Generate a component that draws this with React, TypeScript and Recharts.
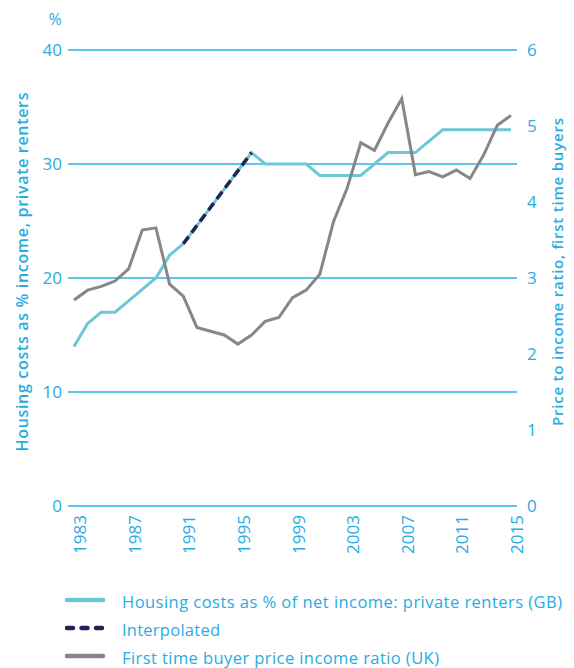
import React from 'react';
import { LineChart, Line, XAxis, YAxis, CartesianGrid } from 'recharts';

const years = [
  1983, 1984, 1985, 1986, 1987, 1988, 1989, 1990, 1991, 1992, 1993,
  1994, 1995, 1996, 1997, 1998, 1999, 2000, 2001, 2002, 2003, 2004,
  2005, 2006, 2007, 2008, 2009, 2010, 2011, 2012, 2013, 2014, 2015,
];

// Housing costs as % of net income: private renters (GB)
const rentersPct = [
  14, 16, 17, 17, 18, 19, 20, 22, 23, 24.6, 26.2,
  27.8, 29.4, 31, 30, 30, 30, 30, 29, 29, 29, 29,
  30, 31, 31, 31, 32, 33, 33, 33, 33, 33, 33,
];

// Interpolated segment
const interpolatedPct: (number | null)[] = [
  null, null, null, null, null, null, null, null, 23, 24.6, 26.2,
  27.8, 29.4, 31, null, null, null, null, null, null, null, null,
  null, null, null, null, null, null, null, null, null, null, null,
];

// First time buyer price income ratio (UK)
const ftbRatio = [
  2.71, 2.84, 2.89, 2.96, 3.12, 3.63, 3.66, 2.92, 2.76, 2.35, 2.30,
  2.25, 2.13, 2.25, 2.43, 2.48, 2.74, 2.84, 3.05, 3.74, 4.18, 4.78,
  4.68, 5.04, 5.36, 4.36, 4.40, 4.33, 4.42, 4.31, 4.62, 5.01, 5.14,
];

const yearTicks = [1983, 1987, 1991, 1995, 1999, 2003, 2007, 2011, 2015];
const leftTicks = [0, 10, 20, 30, 40];
const rightTicks = [0, 1, 2, 3, 4, 5, 6];

const leftTitle = 'Housing costs as % income, private renters';
const rightTitle = 'Price to income ratio, first time buyers';
const unitLabel = '%';
const legendNames = [
  'Housing costs as % of net income: private renters (GB)',
  'Interpolated',
  'First time buyer price income ratio (UK)',
];
const legendWidths = [440, 98, 317];

const BLUE = '#29ABE2';
const GRID = '#2BB2E6';
const TEAL = '#6CC7D7';
const NAVY = '#1F2454';
const GREY = '#878787';
const FONT = '"Open Sans", Lato, sans-serif';

const data = years.map((y, i) => ({
  year: y,
  renters: rentersPct[i],
  interp: interpolatedPct[i],
  ftb: ftbRatio[i],
}));

export default function App() {
  return (
    <div style={{ position: 'absolute', left: 0, top: 0, width: 574, height: 668, background: '#fff', fontFamily: FONT }}>
      <LineChart
        width={574}
        height={668}
        data={data}
        margin={{ top: 50, right: 12, bottom: 102, left: 18 }}
      >
        <CartesianGrid yAxisId="left" vertical={false} stroke={GRID} strokeWidth={1.3} />
        <XAxis
          dataKey="year"
          type="number"
          domain={[1983, 2015]}
          ticks={yearTicks}
          interval={0}
          padding={{ left: 6, right: 6 }}
          height={60}
          axisLine={false}
          tickLine={false}
          tickSize={0}
          tickMargin={9}
          tick={{ angle: -90, textAnchor: 'end', verticalAnchor: 'middle', fill: BLUE, fontSize: 17, fontFamily: FONT }}
        />
        <YAxis
          yAxisId="left"
          domain={[0, 40]}
          ticks={leftTicks}
          width={50}
          axisLine={false}
          tickLine={false}
          tickSize={0}
          tickMargin={6}
          tick={{ fill: BLUE, fontSize: 17, fontFamily: FONT }}
        />
        <YAxis
          yAxisId="right"
          orientation="right"
          domain={[0, 6]}
          ticks={rightTicks}
          width={45}
          axisLine={false}
          tickLine={false}
          tickSize={0}
          tickMargin={10}
          tick={{ fill: BLUE, fontSize: 17, fontFamily: FONT, textAnchor: 'start' }}
        />
        <Line
          yAxisId="left"
          dataKey="renters"
          type="linear"
          stroke={TEAL}
          strokeWidth={3}
          dot={false}
          activeDot={false}
          isAnimationActive={false}
        />
        <Line
          yAxisId="right"
          dataKey="ftb"
          type="linear"
          stroke={GREY}
          strokeWidth={3}
          dot={false}
          activeDot={false}
          isAnimationActive={false}
        />
        <Line
          yAxisId="left"
          dataKey="interp"
          type="linear"
          stroke={NAVY}
          strokeWidth={3.5}
          strokeDasharray="9 5"
          dot={false}
          activeDot={false}
          connectNulls={false}
          isAnimationActive={false}
        />
      </LineChart>
      <svg
        width={574}
        height={668}
        style={{ position: 'absolute', left: 0, top: 0, pointerEvents: 'none' }}
      >
        <text x={55} y={19} textAnchor="middle" dominantBaseline="central" fill={BLUE} fontSize={16} fontFamily={FONT}>
          {unitLabel}
        </text>
        <text
          x={22}
          y={272}
          transform="rotate(-90 22 272)"
          textAnchor="middle"
          dominantBaseline="central"
          fill={BLUE}
          fontSize={16}
          fontWeight={600}
          fontFamily={FONT}
          textLength={359}
          lengthAdjust="spacing"
        >
          {leftTitle}
        </text>
        <text
          x={557}
          y={272}
          transform="rotate(-90 557 272)"
          textAnchor="middle"
          dominantBaseline="central"
          fill={BLUE}
          fontSize={15}
          fontWeight={600}
          fontFamily={FONT}
          textLength={308}
          lengthAdjust="spacing"
        >
          {rightTitle}
        </text>
        <line x1={67} y1={600} x2={103} y2={600} stroke={TEAL} strokeWidth={4.5} strokeLinecap="round" />
        <line x1={67} y1={628} x2={103} y2={628} stroke={NAVY} strokeWidth={4.5} strokeLinecap="round" strokeDasharray="6 8.5" />
        <line x1={67} y1={656} x2={103} y2={656} stroke={GREY} strokeWidth={4.5} strokeLinecap="round" />
        {legendNames.map((n, i) => (
          <text
            key={n}
            x={122}
            y={601 + i * 28}
            dominantBaseline="central"
            fill={BLUE}
            fontSize={16.5}
            fontFamily={FONT}
            textLength={legendWidths[i]}
            lengthAdjust="spacing"
          >
            {n}
          </text>
        ))}
      </svg>
    </div>
  );
}
